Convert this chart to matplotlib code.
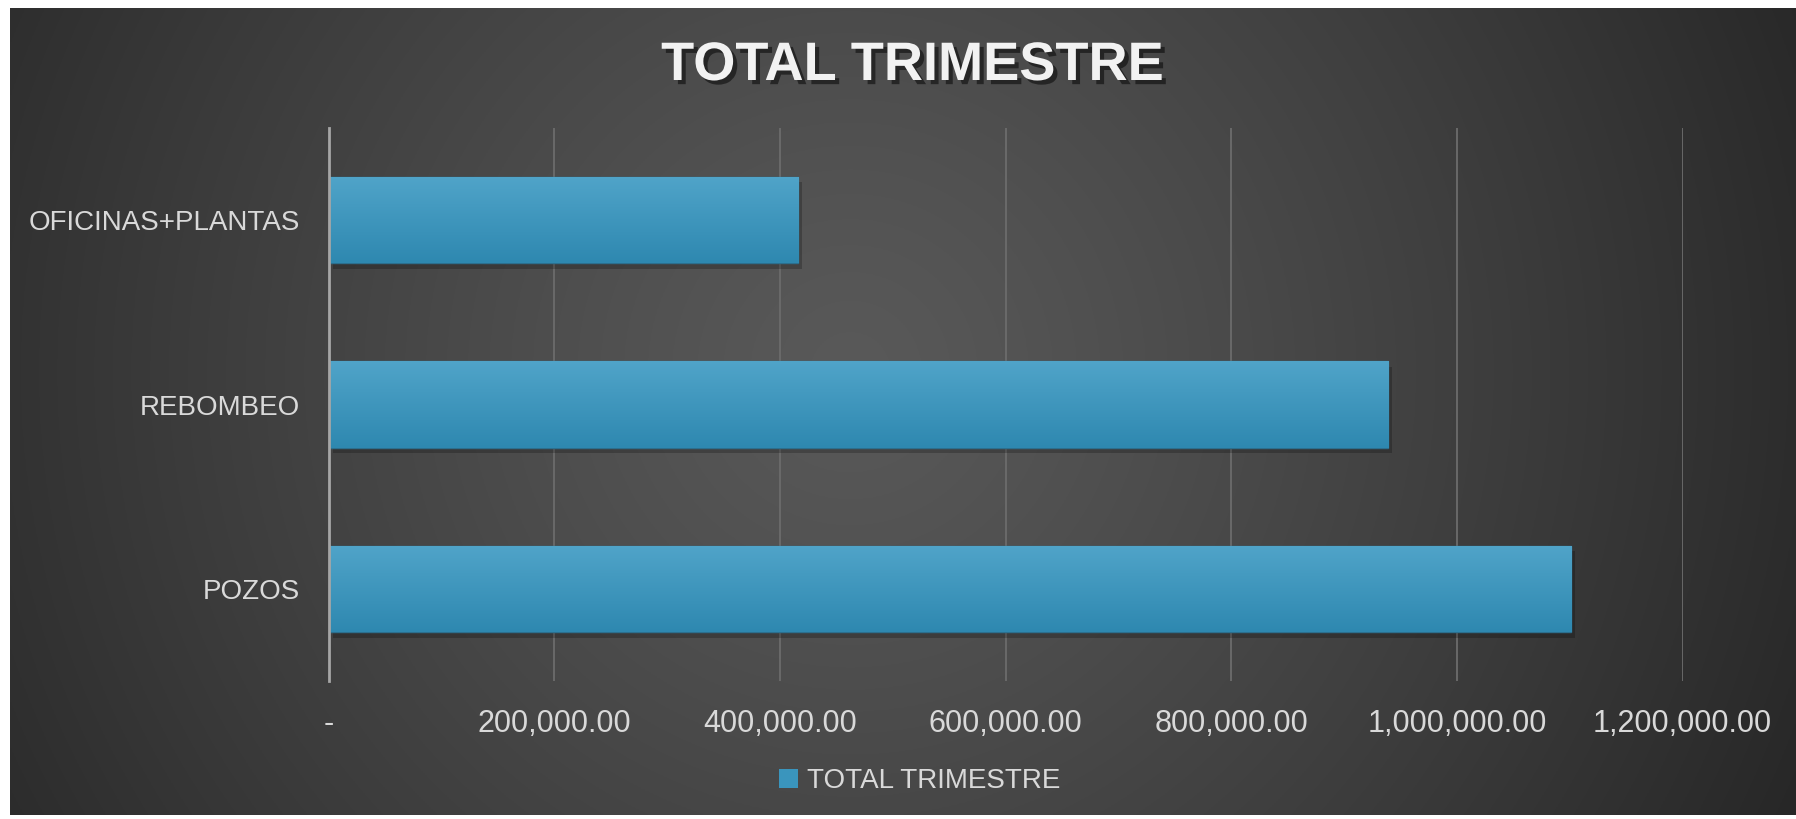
import numpy as np
import matplotlib
matplotlib.use("Agg")
import matplotlib.pyplot as plt
import matplotlib.patheffects as pe
from matplotlib.ticker import FuncFormatter

# datos
categorias = ["POZOS", "REBOMBEO", "OFICINAS+PLANTAS"]
total_trimestre = [1101000, 939000, 416000]
ticks_x = [0, 200000, 400000, 600000, 800000, 1000000, 1200000]
titulo = "TOTAL TRIMESTRE"
serie = "TOTAL TRIMESTRE"

TEXT = "#d9d9d9"
FONT = "Liberation Sans"
W, H = 1796, 819

fig = plt.figure(figsize=(W / 100, H / 100), dpi=100, facecolor="white")

# fondo con degradado radial
bg = fig.add_axes([10 / W, 1 - 815 / H, (W - 10) / W, (815 - 8) / H])
bg.set_axis_off()
ny, nx = 400, 900
yy, xx = np.mgrid[0:ny, 0:nx]
cx, cy = nx * 0.47, ny * 0.45
d = np.hypot((xx - cx), (yy - cy) * (807 / 400) / (1786 / 900))
d = d / d.max()
g = (0x59 - (0x59 - 0x27) * d ** 1.2) / 255.0
bg.imshow(np.dstack([g, g, g]), aspect="auto", extent=[0, 1, 0, 1])
bg.set_xlim(0, 1)
bg.set_ylim(0, 1)

ax = fig.add_axes([328.7 / W, 1 - 681 / H, (1682.6 - 328.7) / W, (681 - 128) / H])
ax.set_facecolor("none")

bars = ax.barh(categorias, total_trimestre, height=0.47, color="#3a95bd",
               edgecolor="#2c6f8e", linewidth=1.0, zorder=3)

# degradado vertical en cada barra
grad = np.linspace(0, 1, 256).reshape(-1, 1)
top = np.array([0x50, 0xa4, 0xc9]) / 255
bot = np.array([0x2e, 0x88, 0xb0]) / 255
img = top + (bot - top) * grad[..., None]
for b in bars:
    b.set_path_effects([pe.SimplePatchShadow(offset=(3, -4), alpha=0.22, shadow_rgbFace="black"),
                        pe.Normal()])
    x0, y0, w, h = b.get_x(), b.get_y(), b.get_width(), b.get_height()
    im = ax.imshow(img, aspect="auto", extent=[x0, x0 + w, y0, y0 + h], zorder=4,
                   interpolation="bilinear")
    im.set_clip_path(b)

ax.set_xlim(0, 1200000)
ax.set_ylim(-0.5, 2.5)
ax.set_xticks(ticks_x)
ax.xaxis.set_major_formatter(FuncFormatter(lambda v, p: "-" if v == 0 else f"{v:,.2f}"))
ax.grid(axis="x", color="#6c6c6c", linewidth=1.3, zorder=0)
ax.set_axisbelow(True)
for s in ["top", "right", "bottom"]:
    ax.spines[s].set_visible(False)
ax.spines["left"].set_color("#a6a6a6")
ax.spines["left"].set_linewidth(2)
ax.spines["left"].set_zorder(5)
ax.tick_params(axis="both", length=0, colors=TEXT)
ax.tick_params(axis="x", pad=20)
ax.tick_params(axis="y", pad=21)
for t in ax.get_xticklabels():
    t.set_fontfamily(FONT)
    t.set_fontsize(22)
for t in ax.get_yticklabels():
    t.set_fontfamily(FONT)
    t.set_fontsize(20)

fig.text(0.508, 1 - 66 / H, titulo, ha="center", va="center", color="#f2f2f2",
         fontsize=39, fontweight="bold", family=FONT,
         path_effects=[pe.withSimplePatchShadow(offset=(3, -3), alpha=0.5, shadow_rgbFace="black")])

leg = fig.legend([plt.Rectangle((0, 0), 1, 1, facecolor="#3a95bd")], [serie],
                 loc="center", bbox_to_anchor=(0.512, 1 - 781 / H), frameon=False,
                 handlelength=0.7, handleheight=0.7, handletextpad=0.3,
                 prop={"family": FONT, "size": 20})
for t in leg.get_texts():
    t.set_color(TEXT)

fig.savefig("out.png", dpi=100, facecolor="white")
